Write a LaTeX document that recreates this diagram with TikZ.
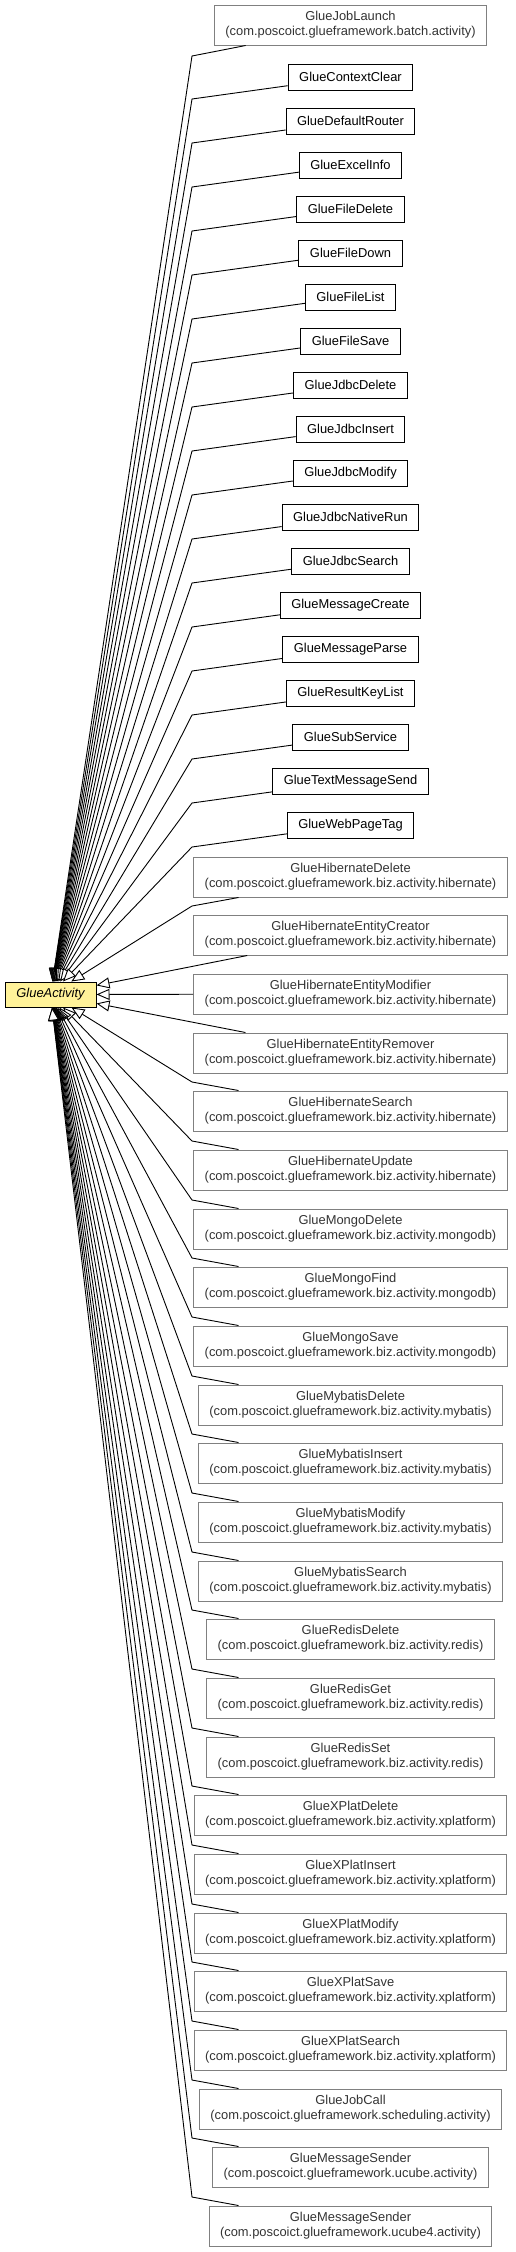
\documentclass[tikz,border=0pt]{standalone}
\usepackage{fontspec}
\setmainfont{Liberation Sans}
\usetikzlibrary{arrows.meta}
\definecolor{baseyellow}{RGB}{255,242,153}
\tikzset{
  leaf/.style={draw=black,line width=1pt,inner xsep=11pt,minimum height=26pt,font=\fontsize{12.9}{15}\selectfont},
  pkgleaf/.style={draw=black!50,text=black!80,line width=1pt,inner xsep=11pt,inner ysep=0pt,minimum height=40pt,align=center,font=\fontsize{12.9}{15}\selectfont},
  base/.style={draw=black,fill=baseyellow,line width=1pt,minimum width=91pt,minimum height=25pt,inner sep=0pt,font=\fontsize{12.9}{15}\selectfont\itshape},
  isa/.style={line width=0.9pt,-{Triangle[fill=white,length=13pt,width=11pt]}}
}
\begin{document}
\begin{tikzpicture}[x=1pt,y=-1pt]
  \useasboundingbox (0,0) rectangle (515,2252);
  % the parent class
  \node [base] (ga) at (50.5,994.5) {GlueActivity};
  % subclasses in the same package
  \node [pkgleaf] (launch) at (350.5,25) {GlueJobLaunch\\(com.poscoict.glueframework.batch.activity)};
  \node [leaf] (ctxclear) at (350.5,77) {GlueContextClear};
  \node [leaf] (router) at (350.5,121) {GlueDefaultRouter};
  \node [leaf] (excel) at (350.5,165) {GlueExcelInfo};
  \node [leaf] (fdelete) at (350.5,209) {GlueFileDelete};
  \node [leaf] (fdown) at (350.5,253) {GlueFileDown};
  \node [leaf] (flist) at (350.5,297) {GlueFileList};
  \node [leaf] (fsave) at (350.5,341) {GlueFileSave};
  \node [leaf] (jdelete) at (350.5,385) {GlueJdbcDelete};
  \node [leaf] (jinsert) at (350.5,429) {GlueJdbcInsert};
  \node [leaf] (jmodify) at (350.5,473) {GlueJdbcModify};
  \node [leaf] (jnative) at (350.5,517) {GlueJdbcNativeRun};
  \node [leaf] (jsearch) at (350.5,561) {GlueJdbcSearch};
  \node [leaf] (mcreate) at (350.5,605) {GlueMessageCreate};
  \node [leaf] (mparse) at (350.5,649) {GlueMessageParse};
  \node [leaf] (keylist) at (350.5,693) {GlueResultKeyList};
  \node [leaf] (subsvc) at (350.5,737) {GlueSubService};
  \node [leaf] (textsend) at (350.5,781) {GlueTextMessageSend};
  \node [leaf] (webtag) at (350.5,825) {GlueWebPageTag};
  % subclasses from other packages
  \node [pkgleaf] (hdelete) at (350.5,877) {GlueHibernateDelete\\(com.poscoict.glueframework.biz.activity.hibernate)};
  \node [pkgleaf] (hcreator) at (350.5,935) {GlueHibernateEntityCreator\\(com.poscoict.glueframework.biz.activity.hibernate)};
  \node [pkgleaf] (hmodifier) at (350.5,994) {GlueHibernateEntityModifier\\(com.poscoict.glueframework.biz.activity.hibernate)};
  \node [pkgleaf] (hremover) at (350.5,1053) {GlueHibernateEntityRemover\\(com.poscoict.glueframework.biz.activity.hibernate)};
  \node [pkgleaf] (hsearch) at (350.5,1111) {GlueHibernateSearch\\(com.poscoict.glueframework.biz.activity.hibernate)};
  \node [pkgleaf] (hupdate) at (350.5,1170) {GlueHibernateUpdate\\(com.poscoict.glueframework.biz.activity.hibernate)};
  \node [pkgleaf] (mgdelete) at (350.5,1229) {GlueMongoDelete\\(com.poscoict.glueframework.biz.activity.mongodb)};
  \node [pkgleaf] (mgfind) at (350.5,1287) {GlueMongoFind\\(com.poscoict.glueframework.biz.activity.mongodb)};
  \node [pkgleaf] (mgsave) at (350.5,1346) {GlueMongoSave\\(com.poscoict.glueframework.biz.activity.mongodb)};
  \node [pkgleaf] (mbdelete) at (350.5,1405) {GlueMybatisDelete\\(com.poscoict.glueframework.biz.activity.mybatis)};
  \node [pkgleaf] (mbinsert) at (350.5,1463) {GlueMybatisInsert\\(com.poscoict.glueframework.biz.activity.mybatis)};
  \node [pkgleaf] (mbmodify) at (350.5,1522) {GlueMybatisModify\\(com.poscoict.glueframework.biz.activity.mybatis)};
  \node [pkgleaf] (mbsearch) at (350.5,1581) {GlueMybatisSearch\\(com.poscoict.glueframework.biz.activity.mybatis)};
  \node [pkgleaf] (rdelete) at (350.5,1639) {GlueRedisDelete\\(com.poscoict.glueframework.biz.activity.redis)};
  \node [pkgleaf] (rget) at (350.5,1698) {GlueRedisGet\\(com.poscoict.glueframework.biz.activity.redis)};
  \node [pkgleaf] (rset) at (350.5,1757) {GlueRedisSet\\(com.poscoict.glueframework.biz.activity.redis)};
  \node [pkgleaf] (xdelete) at (350.5,1815) {GlueXPlatDelete\\(com.poscoict.glueframework.biz.activity.xplatform)};
  \node [pkgleaf] (xinsert) at (350.5,1874) {GlueXPlatInsert\\(com.poscoict.glueframework.biz.activity.xplatform)};
  \node [pkgleaf] (xmodify) at (350.5,1933) {GlueXPlatModify\\(com.poscoict.glueframework.biz.activity.xplatform)};
  \node [pkgleaf] (xsave) at (350.5,1991) {GlueXPlatSave\\(com.poscoict.glueframework.biz.activity.xplatform)};
  \node [pkgleaf] (xsearch) at (350.5,2050) {GlueXPlatSearch\\(com.poscoict.glueframework.biz.activity.xplatform)};
  \node [pkgleaf] (jobcall) at (350.5,2109) {GlueJobCall\\(com.poscoict.glueframework.scheduling.activity)};
  \node [pkgleaf] (sender) at (350.5,2167) {GlueMessageSender\\(com.poscoict.glueframework.ucube.activity)};
  \node [pkgleaf] (sender4) at (350.5,2226) {GlueMessageSender\\(com.poscoict.glueframework.ucube4.activity)};
  % generalisation arrows, bent at x=192
  \draw [isa] (launch) -- (192,56) -- (ga);
  \draw [isa] (ctxclear) -- (192,99) -- (ga);
  \draw [isa] (router) -- (192,143) -- (ga);
  \draw [isa] (excel) -- (192,187) -- (ga);
  \draw [isa] (fdelete) -- (192,231) -- (ga);
  \draw [isa] (fdown) -- (192,275) -- (ga);
  \draw [isa] (flist) -- (192,319) -- (ga);
  \draw [isa] (fsave) -- (192,363) -- (ga);
  \draw [isa] (jdelete) -- (192,407) -- (ga);
  \draw [isa] (jinsert) -- (192,451) -- (ga);
  \draw [isa] (jmodify) -- (192,495) -- (ga);
  \draw [isa] (jnative) -- (192,539) -- (ga);
  \draw [isa] (jsearch) -- (192,583) -- (ga);
  \draw [isa] (mcreate) -- (192,627) -- (ga);
  \draw [isa] (mparse) -- (192,671) -- (ga);
  \draw [isa] (keylist) -- (192,715) -- (ga);
  \draw [isa] (subsvc) -- (192,759) -- (ga);
  \draw [isa] (textsend) -- (192,803) -- (ga);
  \draw [isa] (webtag) -- (192,847) -- (ga);
  \draw [isa] (hdelete) -- (192,906) -- (ga);
  \draw [isa] (hcreator) -- (ga);
  \draw [isa] (hmodifier) -- (ga);
  \draw [isa] (hremover) -- (ga);
  \draw [isa] (hsearch) -- (192,1082) -- (ga);
  \draw [isa] (hupdate) -- (192,1141) -- (ga);
  \draw [isa] (mgdelete) -- (192,1200) -- (ga);
  \draw [isa] (mgfind) -- (192,1258) -- (ga);
  \draw [isa] (mgsave) -- (192,1317) -- (ga);
  \draw [isa] (mbdelete) -- (192,1376) -- (ga);
  \draw [isa] (mbinsert) -- (192,1434) -- (ga);
  \draw [isa] (mbmodify) -- (192,1493) -- (ga);
  \draw [isa] (mbsearch) -- (192,1552) -- (ga);
  \draw [isa] (rdelete) -- (192,1610) -- (ga);
  \draw [isa] (rget) -- (192,1669) -- (ga);
  \draw [isa] (rset) -- (192,1728) -- (ga);
  \draw [isa] (xdelete) -- (192,1786) -- (ga);
  \draw [isa] (xinsert) -- (192,1845) -- (ga);
  \draw [isa] (xmodify) -- (192,1904) -- (ga);
  \draw [isa] (xsave) -- (192,1962) -- (ga);
  \draw [isa] (xsearch) -- (192,2021) -- (ga);
  \draw [isa] (jobcall) -- (192,2080) -- (ga);
  \draw [isa] (sender) -- (192,2138) -- (ga);
  \draw [isa] (sender4) -- (192,2197) -- (ga);
\end{tikzpicture}
\end{document}
